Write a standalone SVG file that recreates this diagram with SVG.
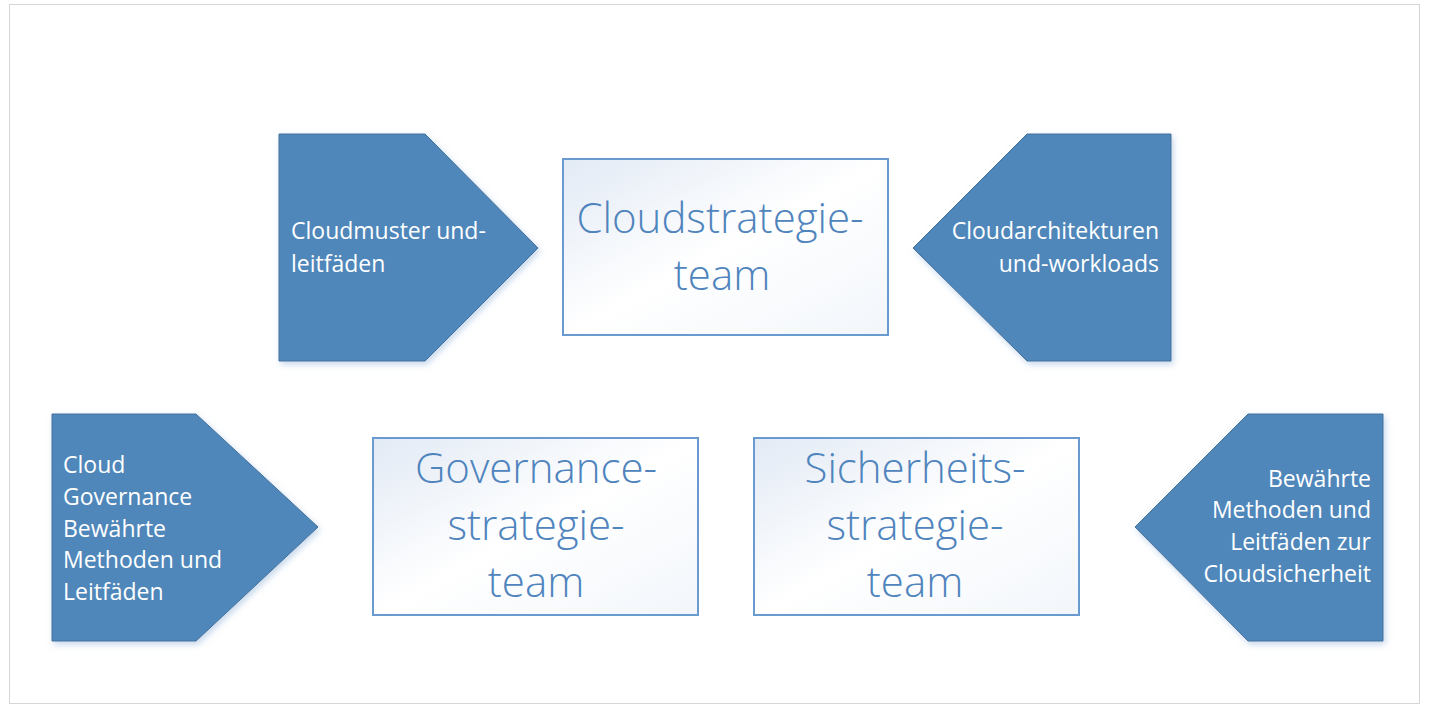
<svg xmlns="http://www.w3.org/2000/svg" width="1430" height="718" viewBox="0 0 1430 718">
<style>
.pent{fill:#4f87ba;stroke:#41719c;stroke-width:1;filter:url(#sh)}
.box{fill:url(#bg);stroke:#6a9bd0;stroke-width:2}
.pt{font-family:"Open Sans","Noto Sans",sans-serif;font-size:23px;fill:#ffffff}
.bt{font-family:"Open Sans","Noto Sans",sans-serif;font-weight:300;font-size:42px;fill:#4f84bd;text-anchor:middle}
</style>
<defs>
<linearGradient id="bg" x1="0" y1="0" x2="1" y2="1">
<stop offset="0" stop-color="#e2eaf5"/>
<stop offset="0.5" stop-color="#ffffff"/>
<stop offset="1" stop-color="#f2f6fb"/>
</linearGradient>
<filter id="sh" x="-10%" y="-10%" width="125%" height="125%">
<feDropShadow dx="2" dy="3" stdDeviation="3" flood-color="#8fb0d8" flood-opacity="0.5"/>
</filter>
</defs>
<rect x="0" y="0" width="1430" height="718" fill="#ffffff"/>
<rect id="frame" x="9.5" y="4.5" width="1410" height="699" fill="#ffffff" stroke="#d6d6d6" stroke-width="1"/>
<g id="connectors"></g>
<g id="n1">
<polygon class="pent" points="279,134 425,134 538,248 425,361 279,361"/>
<text class="pt" x="291" y="239">Cloudmuster und-</text>
<text class="pt" x="291" y="272">leitfäden</text>
</g>
<g id="n2">
<rect class="box" x="563" y="159" width="325" height="176"/>
<text class="bt" x="720" y="233">Cloudstrategie-</text>
<text class="bt" x="722" y="290">team</text>
</g>
<g id="n3">
<polygon class="pent" points="1171,134 1027,134 913,248 1027,361 1171,361"/>
<text class="pt" x="1159" y="239" text-anchor="end">Cloudarchitekturen</text>
<text class="pt" x="1159" y="272" text-anchor="end">und-workloads</text>
</g>
<g id="n4">
<polygon class="pent" points="52,414 196,414 318,527 196,641 52,641"/>
<text class="pt" x="63" y="473">Cloud</text>
<text class="pt" x="63" y="505">Governance</text>
<text class="pt" x="63" y="537">Bewährte</text>
<text class="pt" x="63" y="568">Methoden und</text>
<text class="pt" x="63" y="600">Leitfäden</text>
</g>
<g id="n5">
<rect class="box" x="373" y="438" width="325" height="177"/>
<text class="bt" x="536" y="483">Governance-</text>
<text class="bt" x="536" y="540">strategie-</text>
<text class="bt" x="536" y="597">team</text>
</g>
<g id="n6">
<rect class="box" x="754" y="438" width="325" height="177"/>
<text class="bt" x="915" y="483">Sicherheits-</text>
<text class="bt" x="915" y="540">strategie-</text>
<text class="bt" x="915" y="597">team</text>
</g>
<g id="n7">
<polygon class="pent" points="1383,414 1248,414 1135,527 1248,641 1383,641"/>
<text class="pt" x="1371" y="487" text-anchor="end">Bewährte</text>
<text class="pt" x="1371" y="518" text-anchor="end">Methoden und</text>
<text class="pt" x="1371" y="550" text-anchor="end">Leitfäden zur</text>
<text class="pt" x="1371" y="582" text-anchor="end">Cloudsicherheit</text>
</g>
</svg>
